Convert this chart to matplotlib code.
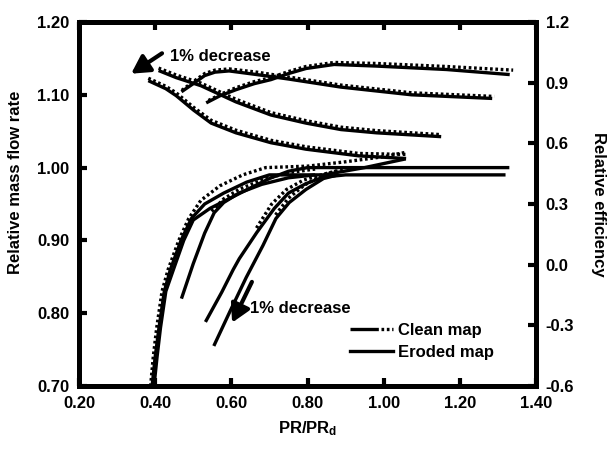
import matplotlib
matplotlib.use('Agg')
import matplotlib.pyplot as plt
from matplotlib.lines import Line2D
from matplotlib.ticker import FormatStrFormatter

plt.rcParams['font.family'] = ['Liberation Sans', 'DejaVu Sans']
plt.rcParams['font.weight'] = 'bold'
plt.rcParams['font.size'] = 12
plt.rcParams['mathtext.fontset'] = 'custom'
plt.rcParams['mathtext.rm'] = 'Liberation Sans:bold'
plt.rcParams['mathtext.bf'] = 'Liberation Sans:bold'

# ---------------- data: relative mass flow rate (left axis) ----------------
# clean map (dotted)
mc1_x = [0.388, 0.395, 0.404, 0.418, 0.434, 0.462, 0.488, 0.520, 0.570, 0.630, 0.690, 0.800, 0.900, 1.000, 1.058]
mc1_y = [0.700, 0.740, 0.780, 0.830, 0.860, 0.900, 0.930, 0.955, 0.975, 0.990, 1.000, 1.002, 1.008, 1.015, 1.021]
mc2_x = [0.548, 0.580, 0.620, 0.680, 0.750, 0.820]
mc2_y = [0.940, 0.957, 0.970, 0.983, 0.993, 0.998]
mc3_x = [0.666, 0.706, 0.745, 0.790, 0.850, 0.900]
mc3_y = [0.917, 0.950, 0.970, 0.983, 0.992, 0.998]
mc4_x = [0.716, 0.750, 0.792, 0.840, 0.880]
mc4_y = [0.935, 0.958, 0.976, 0.990, 0.996]
# eroded map (solid)
me1_x = [0.392, 0.400, 0.410, 0.424, 0.440, 0.468, 0.495, 0.530, 0.580, 0.640, 0.700, 0.842, 0.950, 1.058]
me1_y = [0.700, 0.740, 0.780, 0.830, 0.860, 0.900, 0.930, 0.950, 0.965, 0.980, 0.990, 0.990, 1.000, 1.012]
me2_x = [0.397, 0.405, 0.414, 0.428, 0.448, 0.475, 0.500, 0.544, 0.597, 0.650, 0.700, 0.750, 0.800, 1.330]
me2_y = [0.700, 0.740, 0.780, 0.830, 0.860, 0.900, 0.928, 0.944, 0.958, 0.972, 0.985, 0.995, 1.000, 1.000]
me3_x = [0.469, 0.500, 0.530, 0.555, 0.580, 0.620, 0.680, 0.750, 0.820]
me3_y = [0.820, 0.868, 0.910, 0.938, 0.952, 0.965, 0.977, 0.986, 0.990]
me4_x = [0.532, 0.575, 0.605, 0.621, 0.667, 0.713, 0.750, 0.796, 0.842, 0.900, 1.320]
me4_y = [0.788, 0.829, 0.860, 0.875, 0.911, 0.944, 0.965, 0.978, 0.987, 0.990, 0.990]
me5_x = [0.554, 0.596, 0.639, 0.683, 0.717, 0.752, 0.796, 0.842, 0.880]
me5_y = [0.755, 0.802, 0.849, 0.893, 0.930, 0.952, 0.970, 0.985, 0.990]

# ---------------- data: relative efficiency (right axis) ----------------
ec1_x = [0.470, 0.500, 0.530, 0.557, 0.594, 0.667, 0.750, 0.888, 1.073, 1.290]
ec1_y = [0.862, 0.905, 0.945, 0.962, 0.968, 0.952, 0.928, 0.888, 0.850, 0.832]
ee1_x = [0.469, 0.500, 0.530, 0.557, 0.594, 0.667, 0.750, 0.888, 1.073, 1.285]
ee1_y = [0.855, 0.895, 0.935, 0.952, 0.958, 0.940, 0.918, 0.878, 0.840, 0.822]

ec2_x = [0.540, 0.575, 0.612, 0.660, 0.704, 0.750, 0.796, 0.870, 0.981, 1.165, 1.340]
ec2_y = [0.812, 0.845, 0.875, 0.905, 0.925, 0.955, 0.980, 1.000, 0.995, 0.980, 0.962]
ee2_x = [0.534, 0.570, 0.612, 0.660, 0.704, 0.750, 0.796, 0.870, 0.981, 1.165, 1.331]
ee2_y = [0.800, 0.835, 0.865, 0.895, 0.915, 0.945, 0.970, 0.990, 0.982, 0.965, 0.940]

ec3_x = [0.409, 0.455, 0.520, 0.566, 0.612, 0.704, 0.796, 0.888, 0.981, 1.151]
ec3_y = [0.972, 0.938, 0.898, 0.858, 0.818, 0.752, 0.712, 0.680, 0.663, 0.643]
ee3_x = [0.409, 0.455, 0.520, 0.566, 0.612, 0.704, 0.796, 0.888, 0.981, 1.151]
ee3_y = [0.960, 0.925, 0.885, 0.845, 0.805, 0.740, 0.700, 0.668, 0.652, 0.633]

ec4_x = [0.382, 0.428, 0.455, 0.501, 0.547, 0.612, 0.704, 0.796, 0.935, 1.062]
ec4_y = [0.922, 0.882, 0.850, 0.778, 0.714, 0.665, 0.615, 0.583, 0.550, 0.545]
ee4_x = [0.382, 0.428, 0.455, 0.501, 0.547, 0.612, 0.704, 0.796, 0.935, 1.059]
ee4_y = [0.910, 0.870, 0.836, 0.764, 0.700, 0.652, 0.603, 0.571, 0.538, 0.525]

x_ticks = [0.20, 0.40, 0.60, 0.80, 1.00, 1.20, 1.40]
left_ticks = [0.70, 0.80, 0.90, 1.00, 1.10, 1.20]
right_ticks = [-0.6, -0.3, 0.0, 0.3, 0.6, 0.9, 1.2]

# ---------------- figure ----------------
fig = plt.figure(figsize=(6.11, 4.51), dpi=100)
ax = fig.add_axes([79 / 611, 1 - 386 / 451, (536 - 79) / 611, (386 - 22) / 451])
ax2 = ax.twinx()

dot_style = dict(color='black', lw=2.4, linestyle=(0, (0.8, 0.8)), solid_capstyle='butt')
sol_style = dict(color='black', lw=2.4, linestyle='-', solid_capstyle='butt')

for xs, ys in [(mc1_x, mc1_y), (mc2_x, mc2_y), (mc3_x, mc3_y), (mc4_x, mc4_y)]:
    ax.plot(xs, ys, **dot_style)
for xs, ys in [(me1_x, me1_y), (me2_x, me2_y), (me3_x, me3_y), (me4_x, me4_y), (me5_x, me5_y)]:
    ax.plot(xs, ys, **sol_style)

for xs, ys in [(ec1_x, ec1_y), (ec2_x, ec2_y), (ec3_x, ec3_y), (ec4_x, ec4_y)]:
    ax2.plot(xs, ys, **dot_style)
for xs, ys in [(ee1_x, ee1_y), (ee2_x, ee2_y), (ee3_x, ee3_y), (ee4_x, ee4_y)]:
    ax2.plot(xs, ys, **sol_style)

ax.set_xlim(0.2, 1.4)
ax.set_ylim(0.70, 1.20)
ax2.set_ylim(-0.6, 1.2)
ax.set_xticks(x_ticks)
ax.set_yticks(left_ticks)
ax2.set_yticks(right_ticks)
ax.xaxis.set_major_formatter(FormatStrFormatter('%.2f'))
ax.yaxis.set_major_formatter(FormatStrFormatter('%.2f'))
ax2.yaxis.set_major_formatter(FormatStrFormatter('%.1f'))

for a in (ax, ax2):
    for s in a.spines.values():
        s.set_linewidth(3.6)
ax.tick_params(axis='x', direction='in', top=True, bottom=True, length=6, width=3, pad=7)
ax.tick_params(axis='y', direction='in', left=True, right=False, length=6, width=3, pad=7)
ax2.tick_params(axis='y', direction='in', right=True, left=False, length=6, width=3, pad=7)

ax.set_xlabel(r'$\mathbf{PR/PR_d}$', fontsize=12, labelpad=6)
ax.set_ylabel('Relative mass flow rate', fontsize=12, fontweight='bold', va='center')
ax.yaxis.set_label_coords(-0.14, 0.56)
ax2.set_ylabel('Relative efficiency', fontsize=12, fontweight='bold', rotation=270, va='center')
ax2.yaxis.set_label_coords(1.136, 0.5)

# annotations
ax.annotate('', xy=(0.337, 1.129), xytext=(0.418, 1.157),
            arrowprops=dict(arrowstyle='-|>,head_length=0.9,head_width=0.5', color='black', lw=3, shrinkA=0, shrinkB=0))
ax.text(0.440, 1.153, '1% decrease', fontsize=12, fontweight='bold', va='center', ha='left')
ax.annotate('', xy=(0.602, 0.787), xytext=(0.654, 0.843),
            arrowprops=dict(arrowstyle='-|>,head_length=0.9,head_width=0.5', color='black', lw=3, shrinkA=0, shrinkB=0))
ax.text(0.649, 0.807, '1% decrease', fontsize=12, fontweight='bold', va='center', ha='left')

# legend
h_clean = Line2D([], [], color='black', lw=2.4, dashes=(8.5, 0.8, 0.8, 0.8, 0.8, 0.8, 0.8, 0.8))
h_eroded = Line2D([], [], color='black', lw=2.4)
ax.legend([h_clean, h_eroded], ['Clean map', 'Eroded map'], loc='center left',
          bbox_to_anchor=((350 - 79) / 457, (386 - 341.5) / 364), frameon=False,
          borderaxespad=0, borderpad=0, handlelength=2.6, handletextpad=0.3,
          labelspacing=0.4, prop={'weight': 'bold', 'size': 12})

fig.savefig('out.png', dpi=100)
